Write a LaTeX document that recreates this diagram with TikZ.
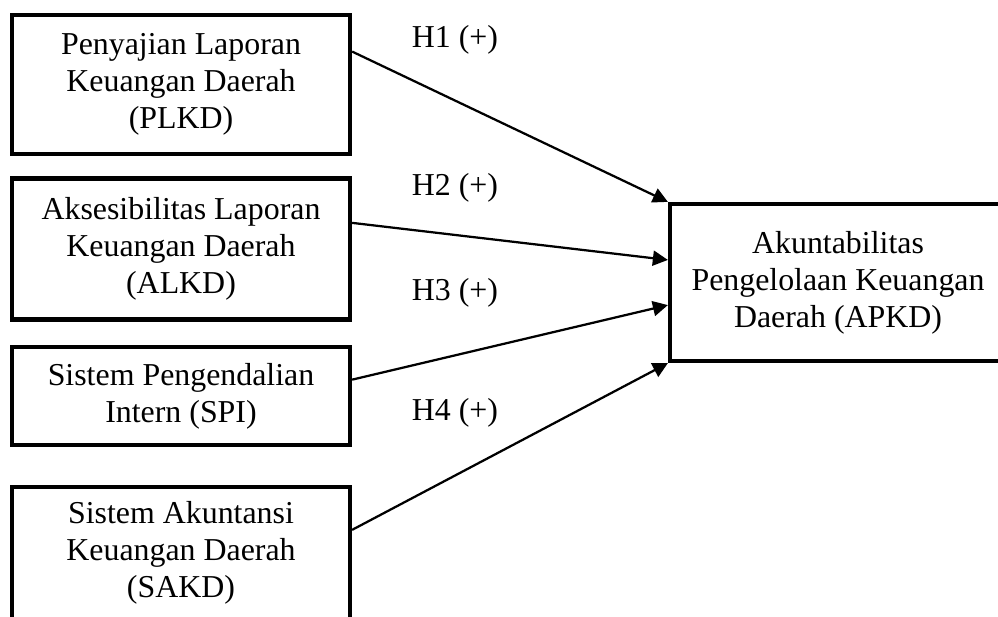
\documentclass[tikz,border=0pt]{standalone}
\usepackage{fontspec}
\setmainfont{Liberation Serif}
\usetikzlibrary{arrows.meta, positioning, calc}

\tikzset{
  varbox/.style={draw, line width=1.7pt, align=center, inner sep=0pt,
    font=\fontsize{12.75}{14.8}\selectfont},
  hyparrow/.style={-{Triangle[length=6pt, width=6pt]}, line width=0.9pt},
  hyplabel/.style={font=\fontsize{12.75}{14.8}\selectfont}
}

\begin{document}
\begin{tikzpicture}[x=0.4pt, y=-0.4pt]
        \useasboundingbox (0,0) rectangle (998,616);
        % independent variables
        \node[varbox, minimum width=135.2pt, minimum height=55.6pt] (plkd) at (181,84.5)
          {Penyajian Laporan\\Keuangan Daerah\\(PLKD)};
        \node[varbox, minimum width=135.2pt, minimum height=56.4pt] (alkd) at (181,249)
          {Aksesibilitas Laporan\\Keuangan Daerah\\(ALKD)};
        \node[varbox, minimum width=135.2pt, minimum height=39.2pt] (spi) at (181,396)
          {Sistem Pengendalian\\Intern (SPI)};
        \node[varbox, minimum width=135.2pt, minimum height=52.8pt] (sakd) at (181,553)
          {Sistem Akuntansi\\Keuangan Daerah\\(SAKD)};
        % dependent variable
        \node[varbox, minimum width=134.4pt, minimum height=62.8pt] (apkd) at (838,282.5)
          {Akuntabilitas\\Pengelolaan Keuangan\\Daerah (APKD)};
        % hypotheses
        \draw[hyparrow] ($(plkd.north east)!0.27!(plkd.south east)$) -- (apkd.north west);
        \draw[hyparrow] ($(alkd.north east)!0.32!(alkd.south east)$) -- ($(apkd.north west)!0.36!(apkd.south west)$);
        \draw[hyparrow] ($(spi.north east)!0.34!(spi.south east)$) -- ($(apkd.north west)!0.64!(apkd.south west)$);
        \draw[hyparrow] ($(sakd.north east)!0.33!(sakd.south east)$) -- (apkd.south west);
        \node[hyplabel] (h1) at (455,40) {H1 (+)};
        \node[hyplabel] (h2) at (455,188) {H2 (+)};
        \node[hyplabel] (h3) at (455,293) {H3 (+)};
        \node[hyplabel] (h4) at (455,413) {H4 (+)};
      \end{tikzpicture}
\end{document}
